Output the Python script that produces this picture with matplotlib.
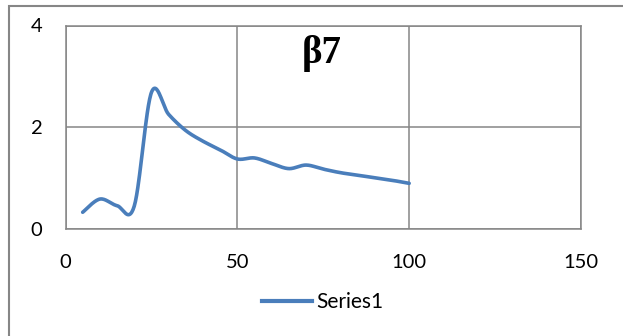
import numpy as np
import matplotlib
matplotlib.use('Agg')
import matplotlib.pyplot as plt
from matplotlib.patches import Rectangle
from matplotlib.lines import Line2D

x_vals = [5, 10, 15, 20, 25, 30, 35, 40, 45, 50, 55, 60, 65, 70, 75, 80, 85, 90, 95, 100]
y_vals = [0.32, 0.58, 0.45, 0.44, 2.68, 2.25, 1.93, 1.72, 1.55, 1.37, 1.39, 1.28, 1.18, 1.25, 1.17, 1.10, 1.05, 1.00, 0.95, 0.89]
x_ticks = [0, 50, 100, 150]
y_ticks = [0, 2, 4]
titulo = 'β7'
serie = 'Series1'

azul = '#4A7EBB'
gris = '#868686'


def _suavizar(xs, ys, n=30):
    # curva tipo Excel (catmull-rom) entre puntos
    p = np.column_stack([xs, ys]).astype(float)
    p = np.vstack([p[0], p, p[-1]])
    out = []
    for i in range(1, len(p) - 2):
        p0, p1, p2, p3 = p[i - 1], p[i], p[i + 1], p[i + 2]
        c1 = p1 + (p2 - p0) / 6
        c2 = p2 - (p3 - p1) / 6
        t = np.linspace(0, 1, n)[:, None]
        seg = (1 - t) ** 3 * p1 + 3 * (1 - t) ** 2 * t * c1 + 3 * (1 - t) * t ** 2 * c2 + t ** 3 * p2
        out.append(seg if i == 1 else seg[1:])
    out = np.vstack(out)
    return out[:, 0], out[:, 1]


fig = plt.figure(figsize=(6.23, 3.36), dpi=100)
ax = fig.add_axes([65.5 / 623, 1 - 228.5 / 336, (581 - 65.5) / 623, (228.5 - 25.5) / 336])

sx, sy = _suavizar(x_vals, y_vals)
ax.plot(sx, sy, color=azul, lw=2.6, solid_capstyle='round', zorder=3)

ax.set_xlim(0, 150)
ax.set_ylim(0, 4)
ax.set_xticks(x_ticks)
ax.set_yticks(y_ticks)
ax.grid(True, color=gris, lw=1.1)
for s in ax.spines.values():
    s.set_color(gris)
    s.set_linewidth(1.1)
ax.tick_params(length=0, labelsize=14.5, colors='black')
ax.tick_params(axis='y', pad=16.5)
ax.tick_params(axis='x', pad=18.5)
for lbl in ax.get_xticklabels() + ax.get_yticklabels():
    lbl.set_family('Lato')

fig.text(322 / 623, 1 - 63 / 336, titulo, ha='center', va='baseline',
         fontsize=28, fontweight='bold', family='Liberation Serif')

# borde exterior del grafico
fig.patches.append(Rectangle((8.5 / 623, -0.1), 1.1, (330.5 / 336) + 0.1, transform=fig.transFigure,
                             fill=False, edgecolor=gris, lw=1.5))

fig.legend(handles=[Line2D([], [], color=azul, lw=3)], labels=[serie],
           loc='center', bbox_to_anchor=(323 / 623, 1 - 302 / 336), frameon=False,
           prop={'family': 'Lato', 'size': 15}, handlelength=2.4, handletextpad=0.2)

fig.savefig('out.png', dpi=100)
